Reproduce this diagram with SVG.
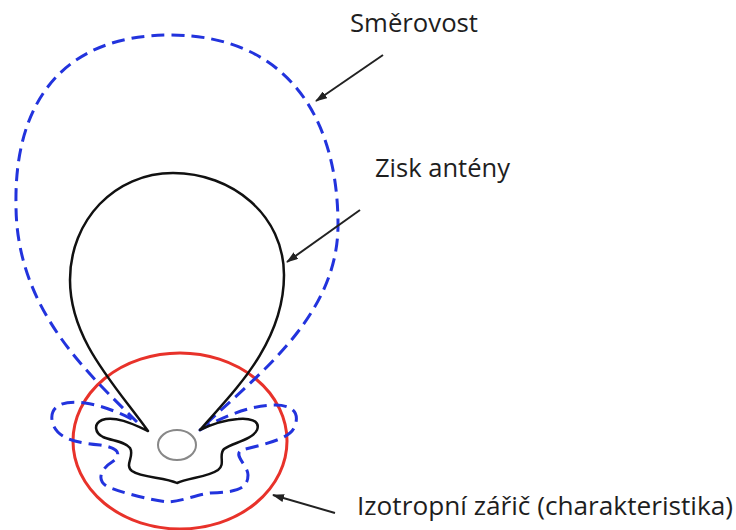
<svg xmlns="http://www.w3.org/2000/svg" width="736" height="530" viewBox="0 0 736 530">
<style>
.lbl{font-family:"Open Sans","Noto Sans","Liberation Sans",sans-serif;font-size:25px;fill:#1e1e1e}
.dir{fill:none;stroke:#2233dd;stroke-width:3;stroke-dasharray:13 7;stroke-linejoin:round}
.gain{fill:none;stroke:#111;stroke-width:2.5;stroke-linejoin:round}
.arr{fill:none;stroke:#222;stroke-width:2;marker-end:url(#ah)}
</style>
<defs>
<marker id="ah" viewBox="0 0 12 8" refX="11" refY="4" markerWidth="12" markerHeight="8" markerUnits="userSpaceOnUse" orient="auto">
<path d="M0,0 L12,4 L0,8 Z" fill="#222"/>
</marker>
</defs>
<rect width="736" height="530" fill="#fff"/>
<g id="isotropic">
<ellipse cx="180" cy="441" rx="107" ry="88" fill="none" stroke="#e8322a" stroke-width="3"/>
</g>
<g id="source">
<ellipse cx="177" cy="445" rx="19" ry="15" fill="none" stroke="#888" stroke-width="2"/>
</g>
<g id="directivity">
<path class="dir" d="M137,422 C90,375 16,310 16,205 C14,100 65,35 170,35 C285,35 338,115 338,225 C338,320 250,380 200,430 C220,418 250,405 275,405 C295,405 300,415 294,428 C288,440 260,445 242,450 C232,455 248,465 248,475 C248,490 235,492 210,493 C195,495 180,502 167,502 C150,500 120,492 108,487 C95,480 102,468 112,462 C122,455 120,448 100,445 C80,443 55,440 52,420 C50,405 65,400 85,403 C105,406 125,415 137,422 Z"/>
</g>
<g id="gain">
<path class="gain" d="M148,431 C115,385 70,340 70,280 C70,220 115,173 173,173 C232,173 284,215 284,275 C284,345 230,395 200,430 C210,425 225,420 238,419 C248,418 261,420 257,430 C252,440 232,443 224,449 C218,455 226,464 218,470 C208,477 188,478 177,483 C165,477 142,478 132,471 C124,465 135,456 130,448 C125,441 112,441 103,437 C95,433 93,424 102,420 C115,415 135,425 148,431 Z"/>
</g>
<g id="connectors">
<line class="arr" x1="383" y1="55" x2="316" y2="101"/>
<line class="arr" x1="360" y1="210" x2="287" y2="262"/>
<line class="arr" x1="335" y1="513" x2="273" y2="495"/>
</g>
<g id="labels">
<text class="lbl" x="350" y="32" textLength="128" lengthAdjust="spacingAndGlyphs">Směrovost</text>
<text class="lbl" x="375" y="177" textLength="135" lengthAdjust="spacingAndGlyphs">Zisk antény</text>
<text class="lbl" x="357" y="515" textLength="376" lengthAdjust="spacingAndGlyphs">Izotropní zářič (charakteristika)</text>
</g>
</svg>
